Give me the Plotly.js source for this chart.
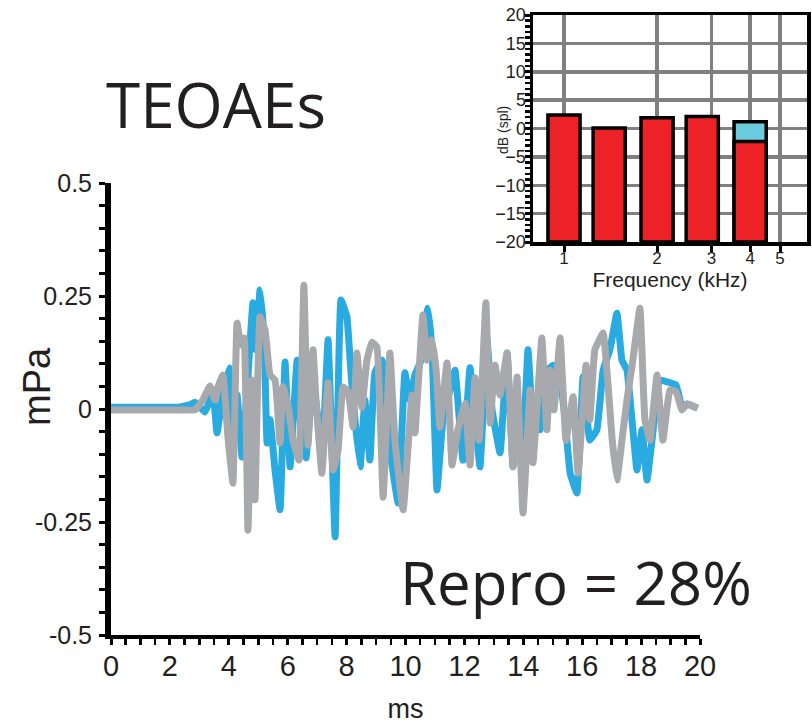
<!DOCTYPE html>
<html><head><meta charset="utf-8">
<script src="https://cdn.plot.ly/plotly-3.0.1.min.js"></script>
<style>html,body{margin:0;padding:0;background:#fff}#chart{width:812px;height:724px}</style>
</head><body><div id="chart"></div>
<script>
// Main waveform (ms, mPa)
const timeBlue = [0,2.28,2.51,2.68,2.85,3.02,3.19,3.36,3.46,3.60,3.77,4.01,4.11,4.28,4.45,4.62,4.82,4.92,5.06,5.20,5.30,5.40,5.57,5.74,5.91,6.08,6.32,6.45,6.62,6.86,7.03,7.16,7.37,7.61,7.81,8.01,8.12,8.22,8.46,8.62,8.79,8.96,9.20,9.47,9.75,9.98,10.15,10.32,10.53,10.76,10.90,11.07,11.27,11.51,11.68,11.95,12.19,12.36,12.53,12.77,12.94,13.21,13.45,13.65,13.82,13.99,14.16,14.33,14.57,14.84,15.01,15.25,15.42,15.59,15.82,16.03,16.26,16.50,16.71,16.94,17.18,17.35,17.52,17.69,17.86,18.03,18.20,18.37,18.64,18.98,19.19,19.39,19.56,19.90];
const ampBlue = [0.004,0.004,0.007,0.009,0.015,0.004,-0.007,0.020,0.042,-0.053,0.020,0.091,-0.091,0.031,-0.106,0.042,0.235,0.131,0.263,0.153,-0.075,-0.024,-0.135,-0.223,0.104,-0.128,0.108,-0.046,-0.108,0.064,-0.024,-0.128,0.153,-0.283,0.241,0.204,0.108,0.020,-0.128,0.020,-0.113,0.080,0.108,-0.091,-0.208,0.080,0.020,0.075,0.108,0.223,0.131,-0.179,-0.024,0.042,0.086,-0.113,0.091,-0.024,-0.128,0.153,-0.002,-0.097,0.124,-0.128,-0.024,-0.069,0.131,-0.024,-0.046,0.086,0.097,0.064,-0.024,-0.142,-0.186,0.071,-0.069,-0.046,0.086,0.131,0.212,0.108,0.086,-0.024,-0.135,-0.046,-0.157,-0.069,0.064,0.058,0.053,0.004,0.011,0.002];
const timeGray = [0,2.28,2.85,3.12,3.36,3.53,3.63,3.80,3.97,4.14,4.28,4.41,4.52,4.65,4.79,4.89,5.06,5.23,5.40,5.57,5.74,5.84,6.01,6.18,6.38,6.55,6.69,6.86,6.96,7.16,7.37,7.54,7.71,7.88,8.05,8.22,8.35,8.52,8.69,8.86,9.03,9.24,9.47,9.64,9.92,10.22,10.32,10.59,10.73,10.90,11.04,11.17,11.41,11.58,11.78,12.02,12.19,12.36,12.50,12.73,12.87,13.04,13.21,13.45,13.65,13.79,13.99,14.23,14.33,14.63,14.80,14.91,15.04,15.25,15.45,15.69,15.86,16.13,16.26,16.43,16.71,16.84,17.01,17.18,17.35,17.52,17.72,17.96,18.13,18.30,18.54,18.74,18.98,19.19,19.39,19.56,19.93];
const ampGray = [-0.002,-0.002,-0.002,0.020,0.051,0.020,0.049,0.075,-0.062,-0.164,0.190,0.142,0.157,-0.268,0.064,-0.201,0.204,0.175,0.075,0.064,-0.075,0.049,0.009,-0.069,-0.113,0.274,-0.080,0.131,0.020,-0.142,0.058,-0.135,-0.091,0.049,0.038,-0.040,0.124,0.004,0.108,0.148,0.137,-0.195,0.124,-0.069,-0.223,0.031,-0.053,0.208,0.108,0.153,0.086,-0.040,0.102,-0.124,-0.046,0.013,-0.124,0.069,-0.069,0.235,-0.031,0.097,0.031,0.124,-0.128,0.071,-0.230,0.042,-0.119,0.157,-0.046,0.086,-0.002,0.157,-0.069,0.027,-0.142,0.097,-0.024,0.131,0.168,0.086,-0.062,-0.157,-0.069,0.020,0.108,0.223,-0.024,-0.069,0.075,-0.069,0.042,0.038,-0.002,0.011,0.002];
const yTickVals = [-0.5,-0.25,0,0.25,0.5];
const yTickText = ['-0.5','-0.25','0','0.25','0.5'];

// Inset spectrum (kHz, dB spl)
const freqKHz = [1, 1.4, 2, 2.8, 4];
const oaeDb = [2.4, 0.1, 1.9, 2.1, -2.3];
const noiseFreqKHz = [4];
const noiseDb = [1.2];
const freqTicks = [1, 2, 3, 4, 5];
const dbFloor = -20;

const logF = a => a.map(f => Math.log10(f));
const fromFloor = a => a.map(d => d - dbFloor);

const txt = '#231f20';
const traces = [
  {x: timeBlue, y: ampBlue, type: 'scatter', mode: 'lines', line: {color: '#29abe2', width: 7, shape: 'spline', smoothing: 0.3}, xaxis: 'x', yaxis: 'y', hoverinfo: 'skip', cliponaxis: false},
  {x: timeGray, y: ampGray, type: 'scatter', mode: 'lines', line: {color: '#a7a9ac', width: 7, shape: 'spline', smoothing: 0.3}, xaxis: 'x', yaxis: 'y', hoverinfo: 'skip', cliponaxis: false},
  {x: logF(noiseFreqKHz), y: fromFloor(noiseDb), base: dbFloor, type: 'bar', width: 0.104, marker: {color: '#6ccbdc', line: {color: '#000', width: 3.5}}, xaxis: 'x2', yaxis: 'y2', hoverinfo: 'skip'},
  {x: logF(freqKHz), y: fromFloor(oaeDb), base: dbFloor, type: 'bar', width: 0.104, marker: {color: '#ec2227', line: {color: '#000', width: 3.5}}, xaxis: 'x2', yaxis: 'y2', hoverinfo: 'skip'}
];

const layout = {
  width: 812, height: 724,
  margin: {l: 0, r: 0, t: 0, b: 0},
  paper_bgcolor: '#fff', plot_bgcolor: 'rgba(0,0,0,0)',
  showlegend: false, barmode: 'overlay',
  font: {family: 'Liberation Sans, Arial, sans-serif', color: txt},
  xaxis: {
    domain: [111/812, 700/812], anchor: 'y', range: [0, 20],
    tickvals: [0,2,4,6,8,10,12,14,16,18,20], ticks: 'outside', ticklen: 6, tickwidth: 3, tickcolor: '#000',
    minor: {dtick: 0.5, tick0: 0, ticks: 'outside', ticklen: 6, tickwidth: 2.5, tickcolor: '#000', showgrid: false},
    showline: true, linewidth: 4, linecolor: '#000', showgrid: false, zeroline: false,
    tickfont: {family: 'Liberation Sans Narrow, Arial Narrow, Liberation Sans, sans-serif', size: 29, color: txt},
    ticklabelstandoff: -4,
    title: {text: 'ms', font: {family: 'Liberation Sans Narrow, Liberation Sans, sans-serif', size: 27, color: txt}, standoff: 24}
  },
  yaxis: {
    domain: [89/724, 541/724], anchor: 'x', range: [-0.5, 0.5],
    tickvals: yTickVals, ticktext: yTickText, ticks: 'outside', ticklen: 6, tickwidth: 3, tickcolor: '#000',
    minor: {dtick: 0.05, tick0: 0, ticks: 'outside', ticklen: 6, tickwidth: 3, tickcolor: '#000', showgrid: false},
    showline: true, linewidth: 6, linecolor: '#000', showgrid: false, zeroline: false,
    tickfont: {size: 25, color: txt}, ticklabelstandoff: 2
  },
  xaxis2: {
    domain: [533/812, 807/812], anchor: 'y2', range: [-0.1003, 0.786],
    tickvals: logF(freqTicks), ticktext: freqTicks.map(String),
    ticks: 'outside', ticklen: 6, tickwidth: 3, tickcolor: '#000',
    showline: true, mirror: true, linewidth: 3.5, linecolor: '#000',
    showgrid: true, gridcolor: '#808080', gridwidth: 3.5, zeroline: false,
    tickfont: {size: 17, color: txt}, ticklabelstandoff: -8,
    title: {text: 'Frequency (kHz)', font: {size: 21, color: txt}, standoff: 0}
  },
  yaxis2: {
    domain: [482/724, 709/724], anchor: 'x2', range: [-20, 20],
    dtick: 5, tick0: 0, ticks: 'outside', ticklen: 5, tickwidth: 3, tickcolor: '#000',
    minor: {dtick: 1, ticks: 'outside', ticklen: 5, tickwidth: 2.5, tickcolor: '#000', showgrid: false},
    showline: true, mirror: true, linewidth: 3.5, linecolor: '#000',
    showgrid: true, gridcolor: '#808080', gridwidth: 3.5, zeroline: false,
    tickfont: {size: 18, color: txt}, ticklabelstandoff: -5
  },
  annotations: [
    {text: 'TEOAEs', xref: 'paper', yref: 'paper', x: 216/812, y: 1 - 104/724, xanchor: 'center', yanchor: 'middle', showarrow: false,
     font: {family: 'Open Sans, sans-serif', size: 62, color: txt}},
    {text: 'Repro = 28%', xref: 'paper', yref: 'paper', x: 576/812, y: 1 - 582/724, xanchor: 'center', yanchor: 'middle', showarrow: false,
     font: {family: 'Open Sans, sans-serif', size: 60, color: txt}},
    {text: 'mPa', xref: 'paper', yref: 'paper', x: 37/812, y: 1 - 387/724, xanchor: 'center', yanchor: 'middle', textangle: -90, showarrow: false,
     font: {size: 38, color: txt}},
    {text: 'dB (spl)', xref: 'paper', yref: 'paper', x: 503/812, y: 1 - 130/724, xanchor: 'center', yanchor: 'middle', textangle: -90, showarrow: false,
     font: {size: 14, color: txt}}
  ]
};

Plotly.newPlot('chart', traces, layout, {staticPlot: true, displayModeBar: false});
</script></body></html>
